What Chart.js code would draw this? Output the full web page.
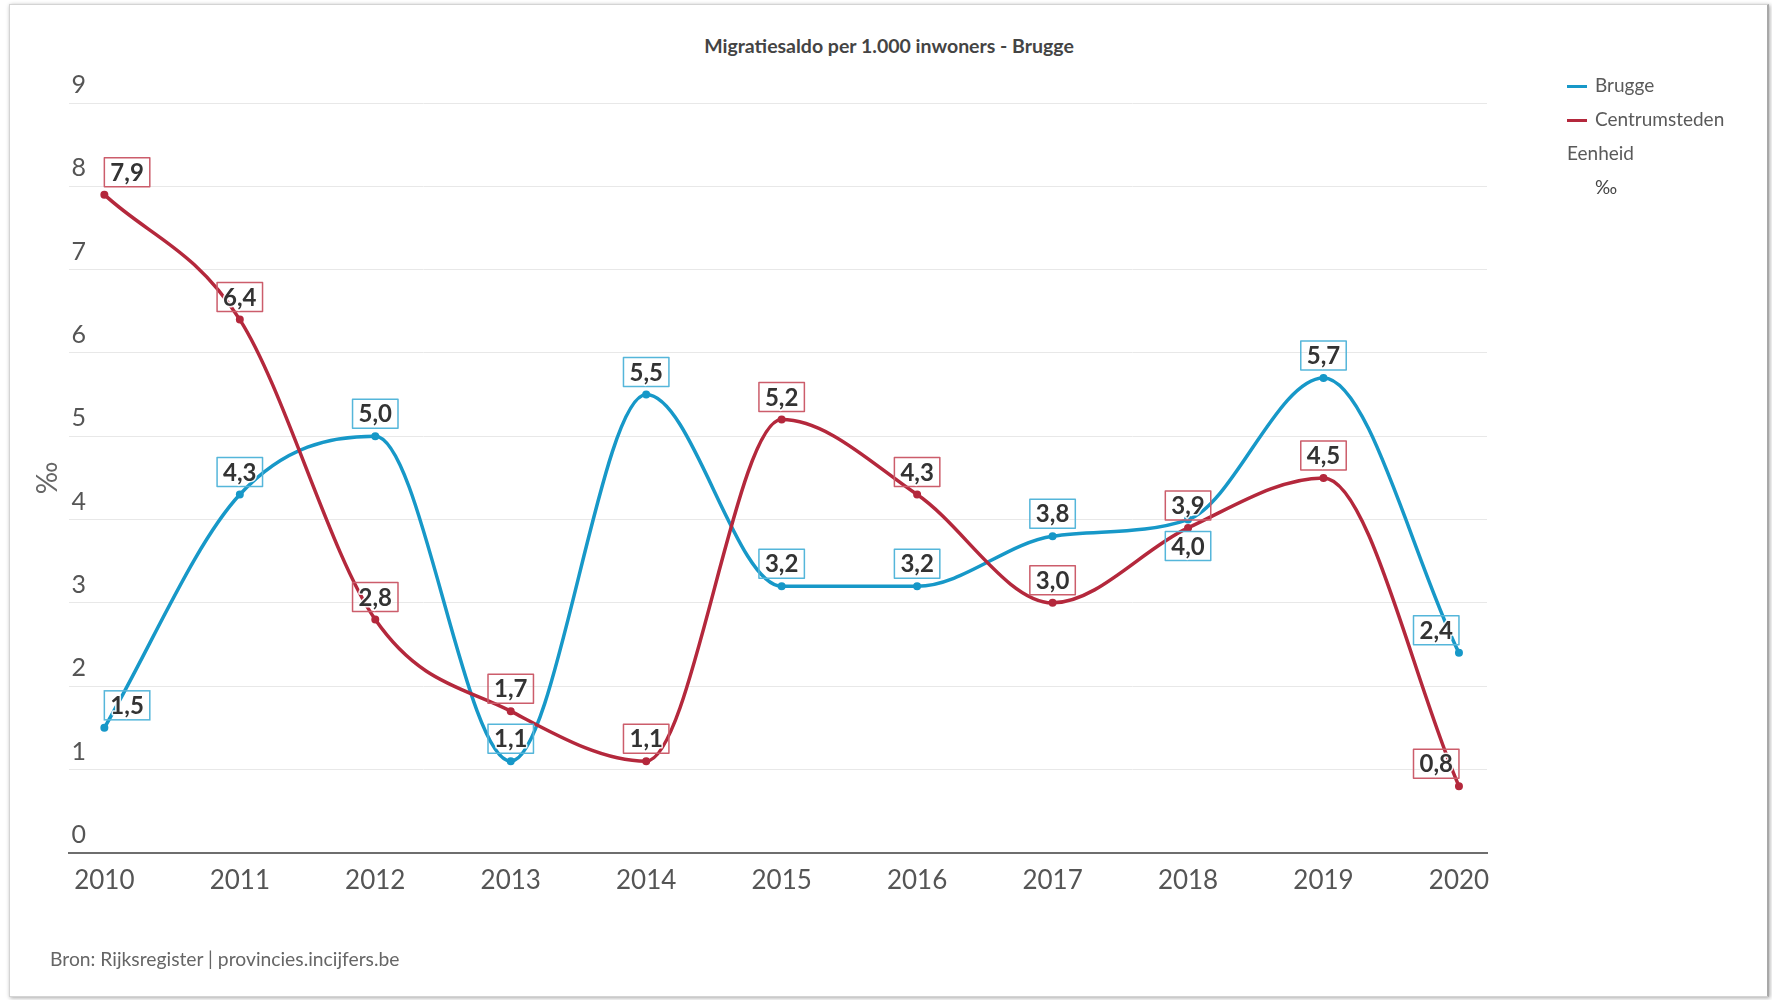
<!DOCTYPE html>
<html lang="nl">
<head>
<meta charset="utf-8">
<title>Migratiesaldo per 1.000 inwoners - Brugge</title>
<script src="https://cdn.jsdelivr.net/npm/chart.js@4.4.1/dist/chart.umd.min.js"></script>
<style>
    html, body { margin: 0; padding: 0; background: #fff; }
    body { width: 1772px; height: 1000px; position: relative; overflow: hidden; font-family: Lato, "Open Sans", sans-serif; }
    #frame {
        position: absolute; left: 9px; top: 4px; width: 1760px; height: 993px;
        box-sizing: border-box; background: #fff;
        border: 1px solid #d4d4d4; border-right: 2px solid #a8a8a8;
        box-shadow: 1px 1px 4px rgba(0, 0, 0, 0.35);
    }
    #wrap { position: absolute; left: 0; top: 0; width: 1772px; height: 1000px; }
    #title { position: absolute; left: 0; top: 35px; width: 1778px; text-align: center; font-size: 19.5px; font-weight: bold; line-height: 22px; color: #444; }
    #legend { position: absolute; left: 1567px; top: 70px; color: #5a5a5a; font-size: 19px; }
    .item { height: 34px; line-height: 30px; white-space: nowrap; }
    .swatch { display: inline-block; width: 20px; height: 3px; vertical-align: middle; margin-right: 8px; position: relative; top: -1px; }
    .unit { padding-left: 28px; color: #444; height: 30px; }
    #source { position: absolute; left: 50px; top: 947px; color: #666; font-size: 19.3px; }
</style>
</head>
<body>
<div id="frame"></div>
<div id="title">Migratiesaldo per 1.000 inwoners - Brugge</div>
<div id="wrap"><canvas id="lineChart"></canvas></div>
<div id="legend"></div>
<div id="source">Bron: Rijksregister | provincies.incijfers.be</div>
<script>
// Jaren en waarden (per 1.000 inwoners)
var years = [2010, 2011, 2012, 2013, 2014, 2015, 2016, 2017, 2018, 2019, 2020];
var brugge = [1.5, 4.3, 5.0, 1.1, 5.5, 3.2, 3.2, 3.8, 4.0, 5.7, 2.4];
var centrumsteden = [7.9, 6.4, 2.8, 1.7, 1.1, 5.2, 4.3, 3.0, 3.9, 4.5, 0.8];
var yTicks = [0, 1, 2, 3, 4, 5, 6, 7, 8, 9];
var unitLabel = '‰';

var blauw = '#1798c8';
var rood = '#b4283c';

function toPoints(values) {
    return years.map(function (year, i) { return { x: year, y: values[i] }; });
}

function formatNum(v) {
    return v.toFixed(1).replace('.', ',');
}

// Labels met kader boven (of onder) elk punt
var valueLabels = {
    id: 'valueLabels',
    afterDatasetsDraw: function (chart) {
        var ctx = chart.ctx;
        var xs = chart.scales.x;
        var minX = xs.getPixelForValue(years[0]);
        var maxX = xs.getPixelForValue(years[years.length - 1]);
        ctx.save();
        ctx.font = 'bold 24px Lato, sans-serif';
        years.forEach(function (year, i) {
            var boxes = chart.data.datasets.map(function (ds, d) {
                var pt = chart.getDatasetMeta(d).data[i];
                var text = formatNum(ds.data[i].y);
                var w = ctx.measureText(text).width + 12;
                var h = 29;
                var left = Math.min(Math.max(pt.x - w / 2, minX), maxX - w);
                return { left: left, top: pt.y - 8 - h, w: w, h: h, text: text, pt: pt, ds: ds };
            });
            var a = boxes[0], b = boxes[1];
            if (a.left < b.left + b.w && b.left < a.left + a.w && a.top < b.top + b.h && b.top < a.top + a.h) {
                a.top = a.pt.y + 12;
            }
            boxes.forEach(function (bx) {
                ctx.lineWidth = 1.5;
                ctx.strokeStyle = bx.ds.labelBorderColor;
                ctx.strokeRect(bx.left, bx.top, bx.w, bx.h);
                ctx.textAlign = 'center';
                ctx.textBaseline = 'middle';
                ctx.lineJoin = 'round';
                ctx.lineWidth = 3;
                ctx.strokeStyle = 'rgba(255,255,255,0.9)';
                ctx.strokeText(bx.text, bx.left + bx.w / 2, bx.top + bx.h / 2 + 1);
                ctx.fillStyle = '#333';
                ctx.fillText(bx.text, bx.left + bx.w / 2, bx.top + bx.h / 2 + 1);
            });
        });
        ctx.restore();
    }
};

var lineChartData = {
    datasets: [{
        label: 'Brugge',
        data: toPoints(brugge),
        borderColor: blauw,
        backgroundColor: blauw,
        labelBorderColor: '#55b6da',
        order: 1
    }, {
        label: 'Centrumsteden',
        data: toPoints(centrumsteden),
        borderColor: rood,
        backgroundColor: rood,
        labelBorderColor: '#cc5d6b',
        order: 0
    }]
};

var lineChartOptions = {
    responsive: true,
    maintainAspectRatio: false,
    animation: false,
    layout: { padding: { left: 16, right: 285, top: 103, bottom: 92 } },
    elements: {
        line: { borderWidth: 3.5, tension: 0.4, cubicInterpolationMode: 'monotone', fill: false },
        point: { radius: 3, borderWidth: 2, borderColor: '#fff', hoverRadius: 3 }
    },
    plugins: {
        legend: { display: false },
        tooltip: { enabled: false },
        title: { display: false }
    },
    scales: {
        x: {
            type: 'linear',
            min: 2009.742,
            max: 2020.207,
            afterBuildTicks: function (axis) {
                axis.ticks = years.map(function (y) { return { value: y }; });
            },
            ticks: {
                color: '#555',
                font: { family: 'Lato', size: 26 },
                padding: 12,
                maxRotation: 0,
                callback: function (v) { return String(v); }
            },
            grid: { display: false, drawTicks: false },
            border: { display: true, color: '#6e6e6e', width: 2 }
        },
        y: {
            min: 0,
            max: 9,
            afterBuildTicks: function (axis) {
                axis.ticks = yTicks.map(function (v) { return { value: v }; });
            },
            ticks: {
                mirror: true,
                padding: 2,
                labelOffset: -18,
                color: '#555',
                font: { family: 'Lato', size: 25 },
                callback: function (v) { return String(v); }
            },
            grid: { color: '#e8e8e8', lineWidth: 1, drawTicks: false },
            border: { display: false },
            title: {
                display: true,
                text: unitLabel,
                color: '#666',
                font: { family: 'Lato', size: 28 },
                padding: { top: 15.4, bottom: 0.4 }
            }
        }
    }
};

var ctx = document.getElementById('lineChart').getContext('2d');
var chart = new Chart(ctx, {
    type: 'line',
    data: lineChartData,
    options: lineChartOptions,
    plugins: [valueLabels]
});

// Legenda in HTML
var legend = document.getElementById('legend');
lineChartData.datasets.forEach(function (ds) {
    var row = document.createElement('div');
    row.className = 'item';
    row.innerHTML = '<span class="swatch" style="background:' + ds.borderColor + '"></span>' + ds.label;
    legend.appendChild(row);
});
var eenheid = document.createElement('div');
eenheid.className = 'item';
eenheid.textContent = 'Eenheid';
legend.appendChild(eenheid);
var unit = document.createElement('div');
unit.className = 'item unit';
unit.textContent = unitLabel;
legend.appendChild(unit);
</script>
</body>
</html>
